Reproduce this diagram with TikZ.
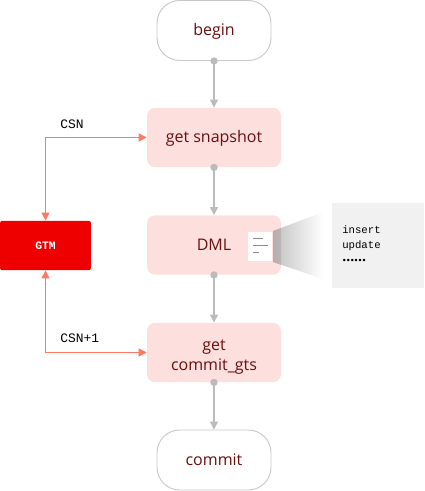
\documentclass[tikz,border=0pt]{standalone}
\usepackage{fontspec}
\setmainfont{Open Sans}
\setmonofont{Liberation Mono}
\usetikzlibrary{arrows.meta,positioning,shadings}
\definecolor{mytext}{RGB}{105,15,15}
\definecolor{mypink}{RGB}{253,223,221}
\definecolor{myred}{RGB}{238,0,0}
\definecolor{myline}{RGB}{255,120,100}
\definecolor{mygray}{RGB}{187,187,187}
\definecolor{mypanel}{RGB}{241,241,241}
\tikzset{
  term/.style={draw=mygray!80,line width=0.7pt,fill=white,rounded corners=17pt,minimum width=85.5pt,minimum height=45pt,text=mytext,font=\fontsize{12}{14}\selectfont,inner sep=0pt,text height=10pt,text depth=2pt},
  stepbox/.style={fill=mypink,rounded corners=6pt,minimum width=100.5pt,minimum height=44.5pt,text=mytext,font=\fontsize{12}{15}\selectfont,align=center,inner sep=0pt},
  flow/.style={draw=mygray,line width=0.9pt,-{Triangle[length=6pt,width=6pt]}},
  link/.style={draw=myline,line width=0.8pt,{Triangle[length=6pt,width=6pt]}-{Triangle[length=6pt,width=6pt]}},
  lab/.style={font=\ttfamily\fontsize{9.7}{11}\selectfont,text=black,inner sep=0pt},
  paneltext/.style={font=\ttfamily\fontsize{8}{9}\selectfont,text=black,inner sep=0pt,anchor=west},
  dot/.style={circle,fill=mygray,minimum size=5.5pt,inner sep=0pt}
}
\begin{document}
\begin{tikzpicture}[x=0.75pt,y=-0.75pt]
\useasboundingbox (0,0) rectangle (424,491);

%panel
\fill[mypanel] (332,203) rectangle (424,288);
\node[paneltext] (ins) at (342,230) {insert};
\node[paneltext] (upd) at (342,246) {update};
\node[paneltext,anchor=base west,font=\bfseries\fontsize{10.5}{12}\selectfont] (dots) at (342,261) {......};

%boxes
\node[term] (begin) at (214,30.5) {begin};
\node[stepbox,text height=10pt,text depth=2pt] (snap) at (214,137.5) {get snapshot};
\node[stepbox] (dml) at (214,245) {DML};
\node[stepbox] (gts) at (214,352.5) {\rule{0pt}{14.5pt}get\\commit\_gts};
\node[term] (commit) at (214,460) {commit};
\node[fill=myred,rounded corners=1.5pt,minimum width=68pt,minimum height=37pt,inner sep=0pt,text=white,font=\ttfamily\bfseries\fontsize{8.5}{10}\selectfont] (gtm) at (45.5,245.5) {GTM};

%funnel
\shade[left color=black!24,right color=white] (273,231) -- (323,212) -- (323,279) -- (273,262) -- cycle;
\fill[mypink!60!black,opacity=0.3] (273,231) -- (281,228) -- (281,265) -- (273,262) -- cycle;

%doc icon
\fill[white] (248,232) rectangle (272,261);
\draw[black!45,line width=0.4pt] (253,238.5) -- (263,238.5);
\draw[black!45,line width=0.4pt] (253,245.5) -- (268,245.5);
\draw[black!45,line width=0.4pt] (253,252.5) -- (259,252.5);

%flow
\draw[flow] (begin) -- (snap);
\draw[flow] (snap) -- (dml);
\draw[flow] (dml) -- (gts);
\draw[flow] (gts) -- (commit);
\node[dot] at (begin.south) {};
\node[dot] at (snap.south) {};
\node[dot] at (dml.south) {};
\node[dot] at (gts.south) {};

%gtm links
\draw[link] (gtm.north) |- (snap.west);
\draw[link] (gtm.south) |- (gts.west);
\node[lab,anchor=west] (csn) at (60,124) {CSN};
\node[lab,anchor=west] (csnp) at (60,338.5) {CSN+1};
\end{tikzpicture}
\end{document}
